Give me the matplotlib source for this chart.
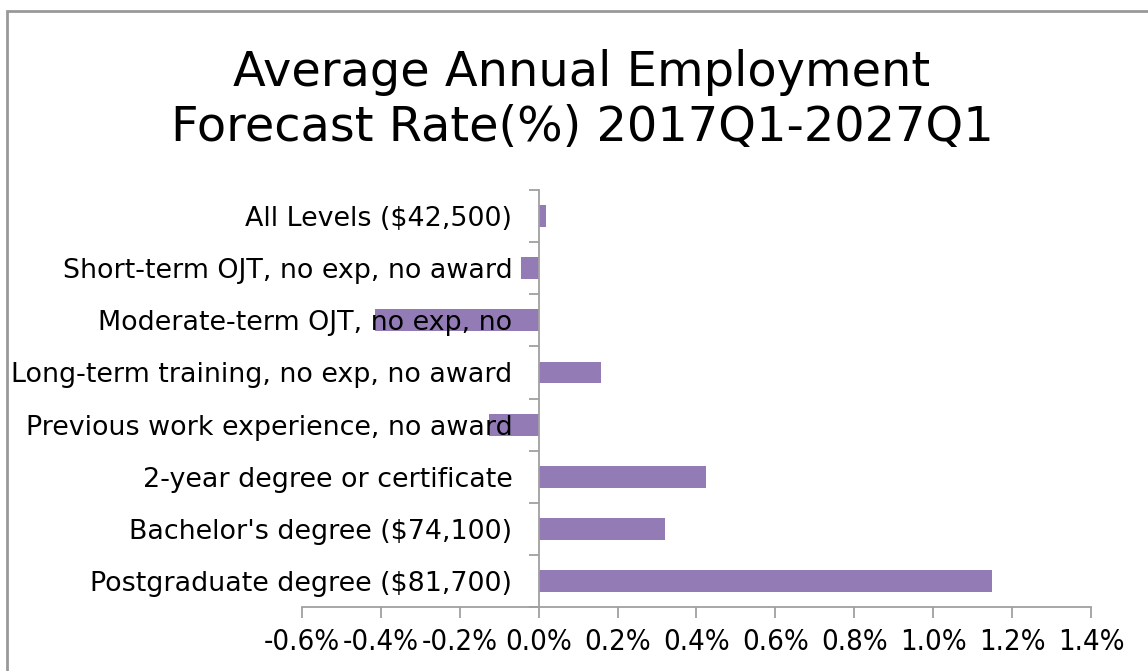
import matplotlib
matplotlib.use("Agg")
import matplotlib.pyplot as plt
from matplotlib.patches import Rectangle
from matplotlib.ticker import FixedLocator, FuncFormatter

# categories listed bottom to top, as drawn
categories = [
    "Postgraduate degree ($81,700)",
    "Bachelor's degree ($74,100)",
    "2-year degree or certificate",
    "Previous work experience, no award",
    "Long-term training, no exp, no award",
    "Moderate-term OJT, no exp, no",
    "Short-term OJT, no exp, no award",
    "All Levels ($42,500)",
]
rates = [1.15, 0.32, 0.425, -0.127, 0.157, -0.416, -0.046, 0.018]
x_ticks = [-0.6, -0.4, -0.2, 0.0, 0.2, 0.4, 0.6, 0.8, 1.0, 1.2, 1.4]

TITLE = "Average Annual Employment\nForecast Rate(%) 2017Q1-2027Q1"
BAR = "#937cb6"
GREY = "#a0a0a0"

fig = plt.figure(figsize=(11.48, 6.71), dpi=100)
ax = fig.add_axes([0.2631, 0.0954, 0.6872, 0.6214])

ypos = list(range(len(categories)))
ax.barh(ypos, rates, height=0.42, color=BAR, zorder=1)

ax.set_xlim(x_ticks[0], x_ticks[-1])
ax.set_ylim(-0.5, len(categories) - 0.5)

# frame: only the zero line and the bottom axis
for s in ("top", "right"):
    ax.spines[s].set_visible(False)
ax.spines["left"].set_position(("data", 0))
ax.spines["left"].set_color(GREY)
ax.spines["bottom"].set_color(GREY)
ax.spines["left"].set_linewidth(1.3)
ax.spines["bottom"].set_linewidth(1.3)

# category boundaries get the tick marks, centres get the labels
ax.yaxis.set_major_locator(FixedLocator([i - 0.5 for i in range(len(categories) + 1)]))
ax.yaxis.set_minor_locator(FixedLocator(ypos))
ax.set_yticklabels([], minor=False)
ax.set_yticklabels(categories, minor=True, fontsize=19.4)
ax.tick_params(axis="y", which="major", length=7, width=1.3, color=GREY, direction="out")
ax.tick_params(axis="y", which="minor", length=0, pad=19)

ax.xaxis.set_major_locator(FixedLocator(x_ticks))
ax.xaxis.set_major_formatter(FuncFormatter(lambda v, p: f"{v:.1f}%"))
ax.tick_params(axis="x", length=8, width=1.3, color=GREY, pad=7)
for lab in ax.get_xticklabels():
    lab.set_fontsize(21)
    lab.set_fontstretch("condensed")

fig.text(0.507, 0.851, TITLE, ha="center", va="center", fontsize=34.5,
         linespacing=1.22)

# outer chart border (runs off the right and bottom edge)
fig.patches.append(Rectangle((7 / 1148, -0.1), 1.2, 1 - 11 / 671 + 0.1,
                             transform=fig.transFigure, fill=False,
                             edgecolor="#999999", linewidth=2))

fig.savefig("out.png", dpi=100)
